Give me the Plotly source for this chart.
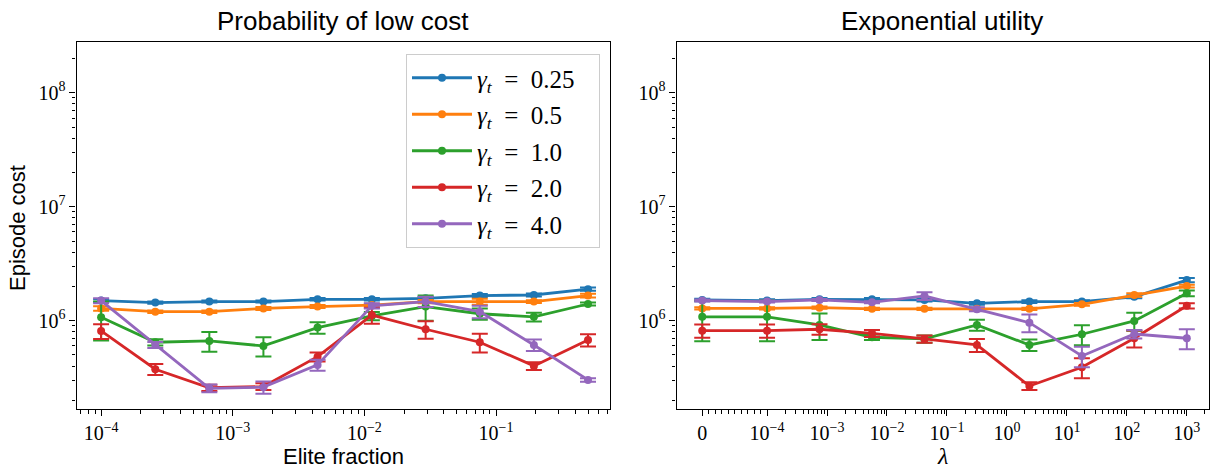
import numpy as np
import plotly.graph_objects as go

# ---------------- data ----------------
elite = [1e-4, 2.58e-4, 6.64e-4, 1.71e-3, 4.41e-3, 1.14e-2, 2.92e-2, 7.53e-2, 0.194, 0.5]
lam = [0, 1e-4, 7.5e-4, 5.62e-3, 4.22e-2, 0.316, 2.37, 17.8, 133, 1000]

gamma_labels = ["0.25", "0.5", "1.0", "2.0", "4.0"]
colors = ["#1f77b4", "#ff7f0e", "#2ca02c", "#d62728", "#9467bd"]

# Left panel: Probability of low cost
pl_mean_025 = [1.50e6, 1.44e6, 1.47e6, 1.47e6, 1.54e6, 1.54e6, 1.57e6, 1.66e6, 1.68e6, 1.89e6]
pl_err_025 = [4e4, 3e4, 3e4, 3e4, 4e4, 4e4, 4e4, 5e4, 5e4, 6e4]
pl_mean_05 = [1.28e6, 1.20e6, 1.20e6, 1.28e6, 1.33e6, 1.37e6, 1.47e6, 1.47e6, 1.47e6, 1.66e6]
pl_err_05 = [6e4, 3e4, 3e4, 4e4, 4e4, 4e4, 5e4, 9e4, 4e4, 6e4]
pl_mean_1 = [1.07e6, 6.47e5, 6.64e5, 6.00e5, 8.69e5, 1.10e6, 1.33e6, 1.15e6, 1.08e6, 1.40e6]
pl_err_1 = [4.0e5, 4e4, 1.3e5, 1.15e5, 1.0e5, 9e4, 3.3e5, 1.3e5, 9.5e4, 4e4]
pl_mean_2 = [8.12e5, 3.75e5, 2.58e5, 2.64e5, 4.83e5, 1.12e6, 8.41e5, 6.47e5, 4.01e5, 6.77e5]
pl_err_2 = [1.2e5, 4.2e4, 1.6e4, 1.8e4, 4.4e4, 1.8e5, 1.47e5, 1.2e5, 3.1e4, 8.4e4]
pl_mean_4 = [1.50e6, 6.12e5, 2.55e5, 2.61e5, 4.09e5, 1.35e6, 1.47e6, 1.20e6, 6.12e5, 3.02e5]
pl_err_4 = [7.5e4, 3.7e4, 2.0e4, 3.2e4, 4.6e4, 7e4, 1.5e5, 1.5e5, 7e4, 1.1e4]

# Right panel: Exponential utility
eu_mean_025 = [1.52e6, 1.50e6, 1.54e6, 1.54e6, 1.52e6, 1.42e6, 1.47e6, 1.47e6, 1.62e6, 2.27e6]
eu_err_025 = [4e4, 4e4, 4e4, 4e4, 5e4, 4e4, 4e4, 4e4, 5e4, 1.0e5]
eu_mean_05 = [1.28e6, 1.28e6, 1.30e6, 1.27e6, 1.27e6, 1.27e6, 1.27e6, 1.39e6, 1.68e6, 2.01e6]
eu_err_05 = [3e4, 3e4, 3e4, 3e4, 3e4, 3e4, 3e4, 4e4, 6e4, 6e4]
eu_mean_1 = [1.08e6, 1.08e6, 9.17e5, 7.15e5, 6.91e5, 9.17e5, 6.12e5, 7.60e5, 9.94e5, 1.74e6]
eu_err_1 = [4.2e5, 4.2e5, 2.4e5, 4e4, 5e4, 1.0e5, 7e4, 1.5e5, 1.8e5, 1.0e5]
eu_mean_2 = [8.17e5, 8.17e5, 8.41e5, 7.75e5, 6.91e5, 6.12e5, 2.67e5, 3.90e5, 7.01e5, 1.35e6]
eu_err_2 = [1.1e5, 1.1e5, 9e4, 5.5e4, 5e4, 8e4, 2.1e4, 7.8e4, 1.2e5, 7e4]
eu_mean_4 = [1.50e6, 1.47e6, 1.52e6, 1.45e6, 1.65e6, 1.26e6, 9.6e5, 4.9e5, 7.64e5, 7.01e5]
eu_err_4 = [3e4, 3e4, 3e4, 3e4, 1.3e5, 5e4, 1.7e5, 1.0e5, 6.5e4, 1.4e5]

left_means = [pl_mean_025, pl_mean_05, pl_mean_1, pl_mean_2, pl_mean_4]
left_errs = [pl_err_025, pl_err_05, pl_err_1, pl_err_2, pl_err_4]
right_means = [eu_mean_025, eu_mean_05, eu_mean_1, eu_mean_2, eu_mean_4]
right_errs = [eu_err_025, eu_err_05, eu_err_1, eu_err_2, eu_err_4]

y_ticks = [1e6, 1e7, 1e8]
y_ticktext = ["10<sup>6</sup>", "10<sup>7</sup>", "10<sup>8</sup>"]
left_xticks = [1e-4, 1e-3, 1e-2, 1e-1]
left_xticktext = ["10<sup>−4</sup>", "10<sup>−3</sup>", "10<sup>−2</sup>", "10<sup>−1</sup>"]
right_xticks = [0, 1e-4, 1e-3, 1e-2, 1e-1, 1, 10, 100, 1000]
right_xticktext = ["0", "10<sup>−4</sup>", "10<sup>−3</sup>", "10<sup>−2</sup>", "10<sup>−1</sup>",
                   "10<sup>0</sup>", "10<sup>1</sup>", "10<sup>2</sup>", "10<sup>3</sup>"]

# symlog-like placement of the zero value on a log axis (linear region ~1.08 decade wide)
ZERO_POS = 8.3e-6
LOG0 = np.log10(ZERO_POS)


def sym(v):
    if v <= 0:
        return ZERO_POS
    if v < 1e-4:
        return 10 ** (LOG0 + (v / 1e-4) * (-4 - LOG0))
    return v


lam_pos = [sym(v) for v in lam]
right_tickpos = [sym(v) for v in right_xticks]

# minor ticks
y_minor = [m * 10 ** e for e in range(5, 9) for m in range(2, 10) if 1.7e5 < m * 10 ** e < 2.8e8]
left_x_minor = [m * 10.0 ** e for e in range(-5, 0) for m in range(2, 10) if 6.5e-5 < m * 10.0 ** e < 0.73]
right_x_minor = [sym(k * 1e-5) for k in range(1, 10)] + \
    [m * 10.0 ** e for e in range(-4, 4) for m in range(2, 10) if m * 10.0 ** e < 2300]

SERIF = "Liberation Serif"
SANS = "Liberation Sans"

fig = go.Figure()

for i in range(5):
    fig.add_trace(go.Scatter(
        x=elite, y=left_means[i], mode="lines+markers",
        line=dict(color=colors[i], width=2.8),
        marker=dict(color=colors[i], size=8),
        error_y=dict(type="data", array=left_errs[i], visible=True,
                     color=colors[i], thickness=2, width=8),
        name="<i>γ</i><sub><i>t</i></sub>&nbsp;&nbsp;=&nbsp;&nbsp;" + gamma_labels[i] + "&nbsp;&nbsp;&nbsp;",
        legendgroup="g%d" % i, showlegend=True,
        xaxis="x", yaxis="y"))

for i in range(5):
    fig.add_trace(go.Scatter(
        x=lam_pos, y=right_means[i], mode="lines+markers",
        line=dict(color=colors[i], width=2.8),
        marker=dict(color=colors[i], size=8),
        error_y=dict(type="data", array=right_errs[i], visible=True,
                     color=colors[i], thickness=2, width=8),
        name="γ = " + gamma_labels[i], legendgroup="g%d" % i, showlegend=False,
        customdata=lam, hovertemplate="λ=%{customdata}<br>%{y}<extra></extra>",
        xaxis="x2", yaxis="y2"))

W, H = 1212, 468
ydom = [1 - 409 / H, 1 - 42 / H]
yrange = [5.225, 8.445]

axis_common = dict(
    showline=True, linecolor="black", linewidth=1.2, mirror=True,
    ticks="outside", ticklen=6, tickwidth=1, tickcolor="black",
    showgrid=False, zeroline=False, automargin=False,
    tickfont=dict(family=SERIF, size=20, color="black"),
)
minor_common = dict(tickmode="array", ticks="outside", ticklen=3.5, tickwidth=1,
                    tickcolor="black", showgrid=False)

fig.update_layout(
    width=W, height=H,
    margin=dict(l=0, r=0, t=0, b=0),
    paper_bgcolor="white", plot_bgcolor="white",
    showlegend=True,
    xaxis=dict(domain=[76.5 / W, 610 / W], type="log", range=[-4.187, -0.134],
               tickmode="array", tickvals=left_xticks, ticktext=left_xticktext,
               minor=dict(tickvals=left_x_minor, **minor_common),
               anchor="y", **axis_common),
    yaxis=dict(domain=ydom, type="log", range=yrange,
               tickmode="array", tickvals=y_ticks, ticktext=y_ticktext,
               minor=dict(tickvals=y_minor, **minor_common),
               anchor="x", **axis_common),
    xaxis2=dict(domain=[676.5 / W, 1209 / W], type="log", range=[-5.51, 3.37],
                tickmode="array", tickvals=right_tickpos, ticktext=right_xticktext,
                minor=dict(tickvals=right_x_minor, **minor_common),
                anchor="y2", **axis_common),
    yaxis2=dict(domain=ydom, type="log", range=yrange,
                tickmode="array", tickvals=y_ticks, ticktext=y_ticktext,
                minor=dict(tickvals=y_minor, **minor_common),
                anchor="x2", **axis_common),
    legend=dict(x=600 / W, xanchor="right", y=1 - 54 / H, yanchor="top",
                bgcolor="rgba(255,255,255,0.8)", bordercolor="#cccccc", borderwidth=1,
                font=dict(family=SERIF, size=25, color="black"),
                tracegroupgap=1, itemwidth=60),
    annotations=[
        dict(text="Probability of low cost", x=343 / W, y=1 - 21 / H, xref="paper", yref="paper",
             showarrow=False, xanchor="center", yanchor="middle",
             font=dict(family=SANS, size=26, color="black")),
        dict(text="Exponential utility", x=942 / W, y=1 - 21 / H, xref="paper", yref="paper",
             showarrow=False, xanchor="center", yanchor="middle",
             font=dict(family=SANS, size=26, color="black")),
        dict(text="Episode cost", x=17 / W, y=1 - 228 / H, xref="paper", yref="paper",
             showarrow=False, xanchor="center", yanchor="middle", textangle=-90,
             font=dict(family=SANS, size=22, color="black")),
        dict(text="Elite fraction", x=343 / W, y=1 - 456 / H, xref="paper", yref="paper",
             showarrow=False, xanchor="center", yanchor="middle",
             font=dict(family=SANS, size=22, color="black")),
        dict(text="<i>λ</i>", x=942 / W, y=1 - 456 / H, xref="paper", yref="paper",
             showarrow=False, xanchor="center", yanchor="middle",
             font=dict(family=SERIF, size=24, color="black")),
    ],
)

fig.write_html("out.html", config={"displayModeBar": False},
               post_script="document.body.style.margin='0';document.body.style.overflow='hidden';")
